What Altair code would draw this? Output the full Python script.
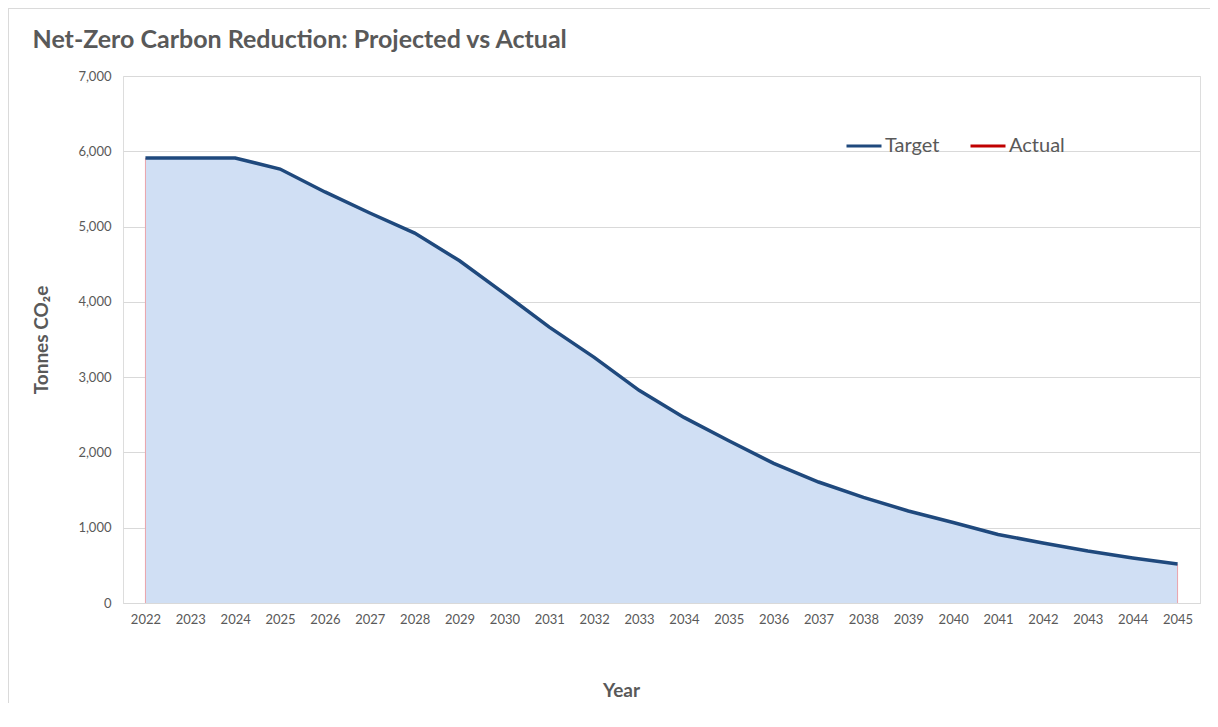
import altair as alt
import pandas as pd

years = [str(y) for y in range(2022, 2046)]
target = [5910, 5910, 5910, 5764, 5460, 5180, 4914, 4545, 4110, 3665,
          3262, 2825, 2465, 2155, 1855, 1607, 1403, 1222, 1070, 910,
          797, 690, 598, 518]
series_names = ["Target", "Actual"]
series_colors = ["#1F497D", "#C00000"]

df = pd.DataFrame({"Year": years, "Value": target, "Series": "Target"})
edge_years = [years[0], years[-1]]

FONT = "Lato"
GREY = "#595959"

x_enc = alt.X("Year:O", scale=alt.Scale(type="point", padding=0.5),
              axis=alt.Axis(title="Year", labelAngle=0, ticks=False, grid=False,
                            domainColor="#D9D9D9", labelFontSize=13, labelColor=GREY,
                            labelPadding=10, titleFontSize=19, titleFontWeight="bold",
                            titleColor=GREY, titlePadding=55, titleX=498,
                            labelFont=FONT, titleFont=FONT))
y_scale = alt.Scale(domain=[0, 7000])
y_axis = alt.Axis(title="Tonnes CO₂e", values=list(range(0, 7001, 1000)), format=",.0f",
                  grid=True, gridColor="#D9D9D9", domain=False, ticks=False,
                  labelFontSize=13, labelColor=GREY, labelPadding=12,
                  titleFontSize=19, titleFontWeight="bold", titleColor=GREY,
                  titlePadding=26, labelFont=FONT, titleFont=FONT)

base = alt.Chart(df)

border = base.mark_rect(filled=False, stroke="#D9D9D9", strokeWidth=1).encode(
    x=alt.value(-115), x2=alt.value(1100), y=alt.value(-68), y2=alt.value(700)
)

area = base.mark_area(color="#D0DFF4", opacity=1).encode(
    x=x_enc,
    y=alt.Y("Value:Q", scale=y_scale, axis=y_axis),
)

edges = base.mark_rule(color="#E9A3AB", strokeWidth=1).encode(
    x="Year:O",
    y=alt.Y("Value:Q", scale=y_scale),
    y2=alt.datum(0),
).transform_filter(alt.FieldOneOfPredicate(field="Year", oneOf=edge_years))

line = base.mark_line(strokeWidth=3.5).encode(
    x="Year:O",
    y=alt.Y("Value:Q", scale=y_scale),
    color=alt.Color("Series:N",
                    scale=alt.Scale(domain=series_names, range=series_colors),
                    legend=alt.Legend(title=None, orient="none", direction="horizontal",
                                      legendX=722, legendY=51, symbolType="stroke",
                                      symbolSize=1225, symbolStrokeWidth=3,
                                      labelFontSize=20, labelColor=GREY, labelFont=FONT,
                                      labelOffset=2, columnPadding=24)),
)

chart = alt.layer(border, area, edges, line).properties(
    width=1077, height=527,
    padding={"left": 115, "top": 68, "right": 10, "bottom": 100},
    autosize=alt.AutoSizeParams(type="none"),
    title=alt.TitleParams("Net-Zero Carbon Reduction: Projected vs Actual",
                          anchor="start", dx=25, offset=-45, fontSize=25,
                          fontWeight="bold", color=GREY, font=FONT),
).configure_view(stroke=None).configure(background="white")

chart.save("out.html", embed_options={"renderer": "svg", "actions": False})
